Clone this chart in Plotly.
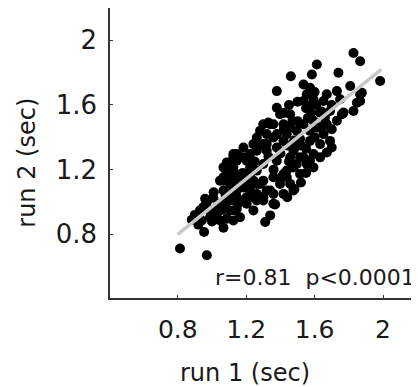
import plotly.graph_objects as go

# run 1 (x) and run 2 (y) times in seconds
run1 = [0.813, 0.97, 0.954, 1.067, 0.882, 0.94, 0.97, 1.008, 0.93, 1.028, 1.018, 1.087, 1.106, 1.145, 1.047,
        1.242, 1.311, 1.164, 1.203, 1.223, 1.184, 1.145, 1.106, 1.262, 1.281, 1.242, 1.30,
        1.087, 1.125, 1.106, 1.067, 1.145, 1.184, 1.223, 1.262, 1.30, 1.145, 1.203,
        1.223, 1.262, 1.203, 1.164,
        0.989, 1.047, 1.125, 0.95, 1.087, 1.125, 1.164, 1.203, 1.067, 1.106, 1.047, 1.125,
        1.34, 1.482, 1.369,
        1.379, 1.379, 1.457, 1.34, 1.281, 1.262, 1.184, 1.067, 1.125, 1.242, 1.32, 1.32, 1.379, 1.418, 1.437,
        1.359, 1.30, 1.32, 1.476, 1.515, 1.476, 1.437, 1.398, 1.515, 1.476, 1.554, 1.593, 1.32, 1.359, 1.281,
        1.223, 1.145,
        1.827, 1.866, 1.983, 1.613, 1.739, 1.584, 1.461, 1.808,
        1.535, 1.573, 1.554, 1.593, 1.573, 1.535, 1.652, 1.671, 1.73, 1.749, 1.866, 1.847, 1.827, 1.769, 1.73,
        1.671, 1.69, 1.632, 1.593, 1.535, 1.496, 1.457, 1.418, 1.359, 1.573, 1.652, 1.69, 1.632, 1.573, 1.515,
        1.671, 1.70, 1.648, 1.759, 1.876, 1.866, 1.398, 1.33, 1.067, 1.125, 1.087,
        1.135, 1.573, 1.359, 1.418, 1.457, 1.34, 1.30, 1.262, 1.223, 1.184, 1.203, 1.262, 1.30, 1.359,
        1.437, 1.496, 1.535, 1.125, 1.223, 1.30, 1.379, 1.457, 1.164,
        1.40, 1.44, 1.48, 1.55, 1.60, 1.62, 1.58, 1.50, 1.55, 1.61, 1.70, 1.66, 1.70,
        1.593, 1.632, 1.55, 1.52, 1.44, 1.418,
        0.90, 0.92, 0.98, 1.00, 1.03, 1.06, 1.08, 1.01, 0.96, 1.12, 1.15, 1.18, 1.10,
        1.25, 1.28, 1.33, 1.36, 1.40, 1.45, 1.48, 1.52, 1.42, 1.47, 1.38, 1.56, 1.64, 1.60,
        1.50, 1.45, 1.42]
run2 = [0.712, 0.67, 0.814, 0.841, 0.890, 0.886, 0.999, 1.026, 0.948, 0.969, 0.917, 0.897, 0.948, 0.958, 0.989,
        0.948, 0.876, 0.999, 1.03, 1.071, 1.09, 1.071, 1.05, 1.05, 1.112, 1.132, 1.009,
        1.194, 1.214, 1.153, 1.153, 1.297, 1.337, 1.297, 1.317, 1.358, 1.255, 1.255,
        1.173, 1.194, 1.132, 1.153,
        0.906, 0.886, 0.886, 0.969, 0.999, 1.009, 0.906, 0.989, 1.071, 1.112, 1.132, 1.173,
        0.917, 1.081, 0.985,
        1.686, 1.583, 1.543, 1.481, 1.44, 1.399, 1.276, 1.132, 1.276, 1.358, 1.358, 1.317, 1.337, 1.378, 1.42,
        1.481, 1.481, 1.42, 1.317, 1.276, 1.214, 1.153, 1.112, 1.173, 1.071, 1.235, 1.297, 1.071, 1.05, 1.03,
        1.112, 1.03,
        1.922, 1.871, 1.748, 1.85, 1.799, 1.789, 1.778, 1.717,
        1.727, 1.707, 1.666, 1.635, 1.594, 1.625, 1.625, 1.666, 1.686, 1.635, 1.666, 1.614, 1.563, 1.553, 1.502,
        1.481, 1.563, 1.553, 1.502, 1.481, 1.44, 1.46, 1.481, 1.399, 1.44, 1.42, 1.378, 1.358, 1.378, 1.389,
        1.306, 1.337, 1.47, 1.543, 1.676, 1.625, 1.543, 1.491, 1.214, 1.297, 1.245,
        0.948, 1.255, 0.989, 1.05, 1.112, 1.071, 1.03, 1.009, 1.03, 1.009, 1.09, 1.112, 1.132, 1.153,
        1.194, 1.235, 1.276, 1.194, 1.214, 1.235, 1.255, 1.276, 1.276,
        1.30, 1.35, 1.38, 1.33, 1.40, 1.46, 1.55, 1.50, 1.58, 1.60, 1.60, 1.52, 1.45,
        1.214, 1.276, 1.18, 1.12, 1.03, 1.173,
        0.92, 0.86, 0.95, 0.88, 0.93, 0.95, 1.04, 1.06, 1.02, 1.10, 1.12, 1.18, 1.24,
        1.25, 1.35, 1.28, 1.20, 1.15, 1.25, 1.33, 1.35, 1.45, 1.50, 1.42, 1.52, 1.56, 1.68,
        1.62, 1.60, 1.55]

# regression line end points
fit_x = [0.80, 1.99]
fit_y = [0.80, 1.82]

tick_vals = [0.8, 1.2, 1.6, 2.0]
tick_text = ["0.8", "1.2", "1.6", "2"]
x_label = "run 1 (sec)"
y_label = "run 2 (sec)"
stats_text = "r=0.81  p<0.0001"

FONT = "DejaVu Sans"
INK = "#1a1a1a"

fig = go.Figure()
fig.add_trace(go.Scatter(x=run1, y=run2, mode="markers",
                         marker=dict(color="black", size=10, line=dict(width=0)),
                         showlegend=False, hoverinfo="skip"))
fig.add_trace(go.Scatter(x=fit_x, y=fit_y, mode="lines",
                         line=dict(color="#c8c8c8", width=3.5),
                         showlegend=False, hoverinfo="skip"))

axis_common = dict(showgrid=False, zeroline=False, showline=True, linecolor="#333333", linewidth=1.5,
                   ticks="inside", ticklen=3, tickcolor="#333333", tickwidth=1,
                   tickvals=tick_vals, ticktext=tick_text, color=INK)

# the page body has an 8px margin, so the figure is sized to fit the window from there
fig.update_layout(
    width=411, height=379,
    margin=dict(l=102, r=0, t=0, b=89, autoexpand=False),
    paper_bgcolor="white", plot_bgcolor="white",
    font=dict(family=FONT, color=INK),
    xaxis=dict(range=[0.404, 2.21], tickfont=dict(size=25, family=FONT), ticklabelstandoff=8, **axis_common),
    yaxis=dict(range=[0.406, 2.2], tickfont=dict(size=26, family=FONT), ticklabelstandoff=6, **axis_common),
    annotations=[
        dict(text=stats_text, xref="paper", yref="paper", x=0.995, y=0.069,
             xanchor="right", yanchor="middle", showarrow=False,
             font=dict(size=22, family=FONT, color=INK)),
        dict(text=x_label, xref="paper", yref="paper", x=0.437, y=-0.259,
             xanchor="center", yanchor="middle", showarrow=False,
             font=dict(size=24, family=FONT, color=INK)),
        dict(text=y_label, xref="paper", yref="paper", x=-0.269, y=0.466,
             xanchor="center", yanchor="middle", showarrow=False, textangle=-90,
             font=dict(size=24, family=FONT, color=INK)),
    ],
)

fig.write_html("out.html")
